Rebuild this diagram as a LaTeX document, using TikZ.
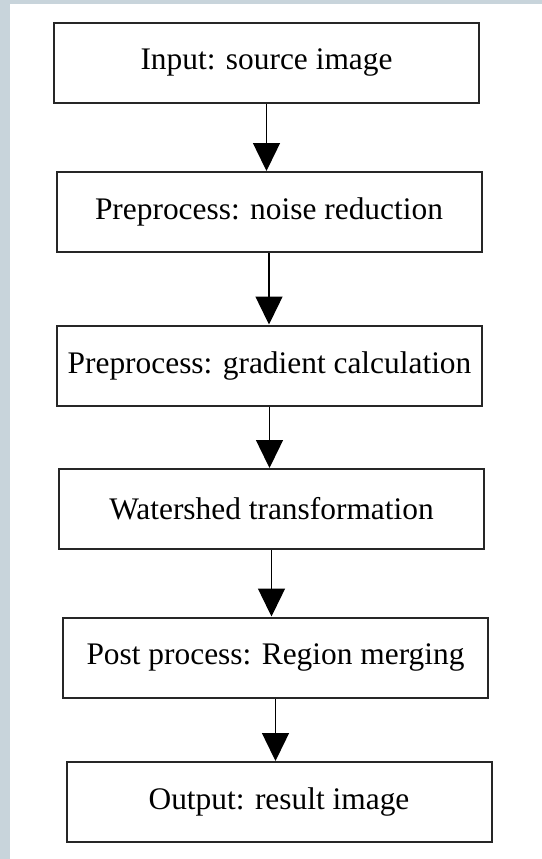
\documentclass[tikz,border=0pt]{standalone}
\usepackage{fontspec}
\setmainfont{Liberation Serif}
\usepackage{tikz}
\usepackage{xcolor}
\usetikzlibrary{arrows.meta}
\usetikzlibrary{positioning}

\definecolor{framegray}{RGB}{200,212,219}

\begin{document}
\begin{tikzpicture}[
    x=0.5pt, y=-0.5pt,  % 像素坐标
    stagebox/.style={
        rectangle,
        draw=black!85,
        line width=1pt,
        fill=white,
        minimum width=212.5pt,
        minimum height=40pt,
        inner sep=0pt,
        font=\fontsize{15.7}{19}\selectfont
    },
    flowarrow/.style={
        draw=black,
        line width=0.7pt,
        -{Triangle[width=13.5pt,length=14pt]}
    }
]
    % 背景和边框
    \useasboundingbox (0,0) rectangle (542,859);
    \fill[framegray] (0,0) rectangle (542,859);
    \fill[white] (10,4) rectangle (542,859);

    % 各个步骤
    \node[stagebox] (in)    at (266.5,62.5) {Input: source image};
    \node[stagebox] (noise) at (269,212)    {Preprocess: noise reduction};
    \node[stagebox] (grad)  at (269.5,365.5) {Preprocess: gradient calculation};
    \node[stagebox] (shed)  at (271.5,509)  {Watershed transformation};
    \node[stagebox] (merge) at (275.5,657.5) {Post process: Region merging};
    \node[stagebox] (out)   at (279,802)    {Output: result image};

    % 箭头
    \draw[flowarrow] (in.south)    -- (in.south |- noise.north);
    \draw[flowarrow] (noise.south) -- (noise.south |- grad.north);
    \draw[flowarrow] (grad.south)  -- (grad.south |- shed.north);
    \draw[flowarrow] (shed.south)  -- (shed.south |- merge.north);
    \draw[flowarrow] (merge.south) -- (merge.south |- out.north);
\end{tikzpicture}
\end{document}
